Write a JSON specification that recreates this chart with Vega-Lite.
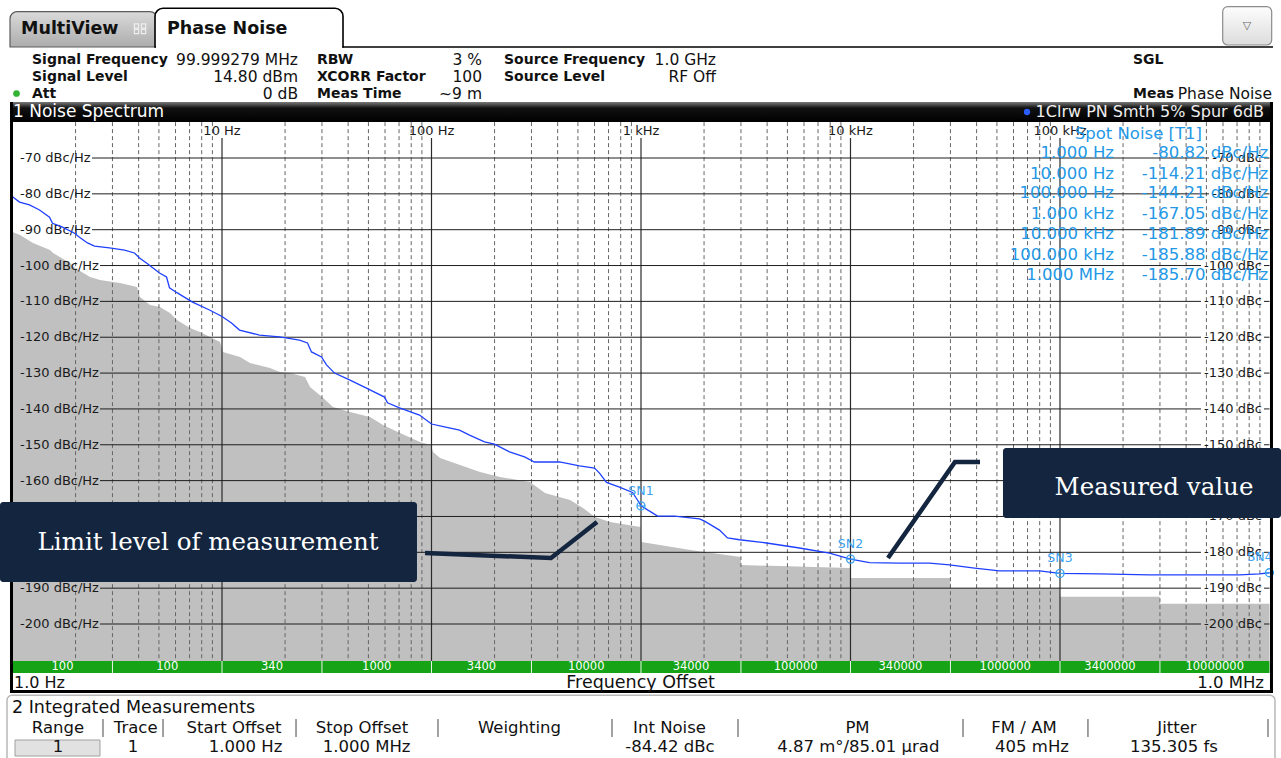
{
 "$schema": "https://vega.github.io/schema/vega-lite/v6.json",
 "width": 1281,
 "height": 758,
 "autosize": {"type": "none"},
 "padding": 0,
 "background": "#ffffff",
 "config": {"view": {"stroke": null}, "text": {"font": "DejaVu Sans"}, "axis": {"disable": true}},
 "datasets": {
  "chrome": [
   {"part": "multiview_tab", "hz": 0.9729, "hz2": 4.8954, "db": -29.19, "db2": -39.04},
   {"part": "phase_tab", "hz": 4.7889, "hz2": 37.81, "db": -28.24, "db2": -39.04},
   {"part": "tab_gap", "hz": 4.8419, "hz2": 37.4, "db": -38.7, "db2": -39.4},
   {"part": "tab_line", "hz": 37.81, "hz2": 1039200, "db": -39.04},
   {"part": "menu_button", "hz": 597900, "hz2": 1024500, "db": -27.79, "db2": -38.48},
   {"part": "title_bar", "hz": 0.9836, "hz2": 1039200, "db": -54.38, "db2": -59.96},
   {"part": "frame_left", "hz": 0.9729, "hz2": 1.0055, "db": -54.38, "db2": -219.25},
   {"part": "frame_right", "hz": 1005500, "hz2": 1039200, "db": -54.38, "db2": -219.25},
   {"part": "frame_bottom", "hz": 0.9729, "hz2": 1039200, "db": -218.41, "db2": -219.25},
   {"part": "table_panel", "hz": 0.9414, "hz2": 1062300, "db": -219.9, "db2": -242},
   {"part": "range_button", "hz": 1.0279, "hz2": 2.616, "db": -232.36, "db2": -236.83}
  ],
  "header": [
   {"text": "Signal Frequency", "role": "label", "hz": 1.239, "db": -42.66},
   {"text": "Signal Level", "role": "label", "hz": 1.239, "db": -47.54},
   {"text": "Att", "role": "label", "hz": 1.239, "db": -52.01},
   {"text": "RBW", "role": "label", "hz": 28.41, "db": -42.66},
   {"text": "XCORR Factor", "role": "label", "hz": 28.41, "db": -47.54},
   {"text": "Meas Time", "role": "label", "hz": 28.41, "db": -52.01},
   {"text": "Source Frequency", "role": "label", "hz": 221.9, "db": -42.66},
   {"text": "Source Level", "role": "label", "hz": 221.9, "db": -47.54},
   {"text": "SGL", "role": "label", "hz": 223100, "db": -42.66},
   {"text": "Meas", "role": "label", "hz": 223100, "db": -52.01},
   {"text": "99.999279 MHz", "role": "value", "hz": 23.06, "db": -42.66},
   {"text": "14.80 dBm", "role": "value", "hz": 23.06, "db": -47.54},
   {"text": "0 dB", "role": "value", "hz": 23.06, "db": -52.01},
   {"text": "3 %", "role": "value", "hz": 174.2, "db": -42.66},
   {"text": "100", "role": "value", "hz": 174.2, "db": -47.54},
   {"text": "~9 m", "role": "value", "hz": 174.2, "db": -52.01},
   {"text": "1.0 GHz", "role": "value", "hz": 2280, "db": -42.66},
   {"text": "RF Off", "role": "value", "hz": 2280, "db": -47.54},
   {"text": "Phase Noise", "role": "value", "hz": 1027800, "db": -52.01}
  ],
  "trace": [
   {"hz": 1, "db": -80.82}, {"hz": 1.08, "db": -82.3}, {"hz": 1.205, "db": -83.1}, {"hz": 1.346, "db": -84.5},
   {"hz": 1.502, "db": -86.5}, {"hz": 1.552, "db": -88.2}, {"hz": 1.733, "db": -89.3}, {"hz": 1.977, "db": -91.0},
   {"hz": 2.088, "db": -92.1}, {"hz": 2.28, "db": -93.7}, {"hz": 2.463, "db": -94.6}, {"hz": 2.904, "db": -95.1},
   {"hz": 3.424, "db": -95.7}, {"hz": 3.823, "db": -96.5}, {"hz": 4.038, "db": -97.9}, {"hz": 4.362, "db": -99.3},
   {"hz": 5.031, "db": -102.1}, {"hz": 5.435, "db": -103.2}, {"hz": 5.615, "db": -106.2}, {"hz": 6.065, "db": -107.5},
   {"hz": 7.232, "db": -110.2}, {"hz": 8.716, "db": -112.4}, {"hz": 10, "db": -114.21}, {"hz": 11.1, "db": -116.0},
   {"hz": 12.12, "db": -118.0}, {"hz": 15.1, "db": -119.4}, {"hz": 18.81, "db": -119.9}, {"hz": 23.44, "db": -120.8},
   {"hz": 25.59, "db": -121.6}, {"hz": 26.74, "db": -124.1}, {"hz": 29.85, "db": -125.5}, {"hz": 31.54, "db": -127.7},
   {"hz": 34.44, "db": -130.0}, {"hz": 40.61, "db": -131.9}, {"hz": 48.95, "db": -134.2}, {"hz": 59.67, "db": -136.7},
   {"hz": 61.66, "db": -138.3}, {"hz": 70.36, "db": -139.7}, {"hz": 87.66, "db": -141.7}, {"hz": 100, "db": -144.21},
   {"hz": 115.4, "db": -145.0}, {"hz": 136.1, "db": -145.9}, {"hz": 151.9, "db": -147.3}, {"hz": 179.1, "db": -149.2},
   {"hz": 199.8, "db": -149.8}, {"hz": 235.7, "db": -152.0}, {"hz": 277.9, "db": -153.4}, {"hz": 310.1, "db": -154.8},
   {"hz": 408.3, "db": -154.8}, {"hz": 508.7, "db": -155.9}, {"hz": 599.8, "db": -156.5}, {"hz": 633.8, "db": -157.9},
   {"hz": 684.4, "db": -160.5}, {"hz": 789.5, "db": -161.8}, {"hz": 910.8, "db": -163.3}, {"hz": 962.2, "db": -165.4},
   {"hz": 1000, "db": -167.05}, {"hz": 1134, "db": -169.0}, {"hz": 1199, "db": -169.9}, {"hz": 1445, "db": -169.9},
   {"hz": 1902, "db": -170.7}, {"hz": 2010, "db": -171.3}, {"hz": 2370, "db": -173.8}, {"hz": 2588, "db": -176.0},
   {"hz": 2953, "db": -176.5}, {"hz": 3972, "db": -177.4}, {"hz": 5710, "db": -178.8}, {"hz": 7940, "db": -180.2},
   {"hz": 10000, "db": -181.89}, {"hz": 12320, "db": -182.9}, {"hz": 17130, "db": -183.0}, {"hz": 23840, "db": -183.0},
   {"hz": 29700, "db": -183.5}, {"hz": 39080, "db": -184.4}, {"hz": 51440, "db": -185.2}, {"hz": 79810, "db": -185.2},
   {"hz": 100000, "db": -185.88}, {"hz": 154300, "db": -186.0}, {"hz": 267400, "db": -186.3}, {"hz": 371900, "db": -186.3},
   {"hz": 719300, "db": -186.3}, {"hz": 896000, "db": -186.0}, {"hz": 1000000, "db": -185.7}
  ],
  "limit": [
   {"hz": 1, "db": -90.65}, {"hz": 1.086, "db": -91.48}, {"hz": 1.253, "db": -93.71}, {"hz": 1.51, "db": -95.67},
   {"hz": 1.561, "db": -96.5}, {"hz": 1.881, "db": -99.29}, {"hz": 1.988, "db": -100.69}, {"hz": 2.344, "db": -103.2},
   {"hz": 2.616, "db": -104.04}, {"hz": 3.018, "db": -104.59}, {"hz": 3.26, "db": -104.87}, {"hz": 3.929, "db": -105.99},
   {"hz": 4.061, "db": -108.78}, {"hz": 4.533, "db": -111.01}, {"hz": 5.058, "db": -111.57}, {"hz": 5.646, "db": -113.24},
   {"hz": 6.098, "db": -115.19}, {"hz": 7.037, "db": -117.42}, {"hz": 7.853, "db": -118.54}, {"hz": 8.763, "db": -119.94},
   {"hz": 9.783, "db": -121.33}, {"hz": 10.11, "db": -124.12}, {"hz": 12.19, "db": -125.52}, {"hz": 13.6, "db": -127.19},
   {"hz": 16.95, "db": -128.59}, {"hz": 18.92, "db": -129.7}, {"hz": 21.11, "db": -129.98}, {"hz": 24.9, "db": -131.09},
   {"hz": 26.31, "db": -133.88}, {"hz": 30.02, "db": -136.67}, {"hz": 33.87, "db": -139.46}, {"hz": 40.83, "db": -140.86},
   {"hz": 50.87, "db": -142.25}, {"hz": 58.68, "db": -144.49}, {"hz": 70.72, "db": -146.72}, {"hz": 88.12, "db": -149.23},
   {"hz": 99.45, "db": -150.07}, {"hz": 101.7, "db": -152.02}, {"hz": 109.8, "db": -153.69}, {"hz": 136.8, "db": -155.64},
   {"hz": 170.4, "db": -157.6}, {"hz": 212.3, "db": -158.99}, {"hz": 295.2, "db": -160.39}, {"hz": 348.2, "db": -163.46},
   {"hz": 458.3, "db": -165.41}, {"hz": 528.6, "db": -167.64}, {"hz": 603.2, "db": -170.15}, {"hz": 711.3, "db": -171.55},
   {"hz": 994.5, "db": -172.94}, {"hz": 1005, "db": -177.13}, {"hz": 1723, "db": -179.36}, {"hz": 2990, "db": -181.31},
   {"hz": 3010, "db": -183.54}, {"hz": 9950, "db": -184.38}, {"hz": 10050, "db": -187.14}, {"hz": 29900, "db": -187.14},
   {"hz": 30100, "db": -189.93}, {"hz": 99500, "db": -189.93}, {"hz": 100500, "db": -192.43}, {"hz": 299000, "db": -192.43},
   {"hz": 301000, "db": -194.38}, {"hz": 1000000, "db": -194.38}
  ],
  "levels": [
   {"db": -70, "left": "-70 dBc/Hz", "right": "-70 dBc"},
   {"db": -80, "left": "-80 dBc/Hz", "right": "-80 dBc"},
   {"db": -90, "left": "-90 dBc/Hz", "right": "-90 dBc"},
   {"db": -100, "left": "-100 dBc/Hz", "right": "-100 dBc"},
   {"db": -110, "left": "-110 dBc/Hz", "right": "-110 dBc"},
   {"db": -120, "left": "-120 dBc/Hz", "right": "-120 dBc"},
   {"db": -130, "left": "-130 dBc/Hz", "right": "-130 dBc"},
   {"db": -140, "left": "-140 dBc/Hz", "right": "-140 dBc"},
   {"db": -150, "left": "-150 dBc/Hz", "right": "-150 dBc"},
   {"db": -160, "left": "-160 dBc/Hz", "right": "-160 dBc"},
   {"db": -170, "left": "-170 dBc/Hz", "right": "-170 dBc"},
   {"db": -180, "left": "-180 dBc/Hz", "right": "-180 dBc"},
   {"db": -190, "left": "-190 dBc/Hz", "right": "-190 dBc"},
   {"db": -200, "left": "-200 dBc/Hz", "right": "-200 dBc"}
  ],
  "decades": [
   {"hz": 10, "label": "10 Hz"}, {"hz": 100, "label": "100 Hz"}, {"hz": 1000, "label": "1 kHz"},
   {"hz": 10000, "label": "10 kHz"}, {"hz": 100000, "label": "100 kHz"}
  ],
  "minor": [
   {"hz": 2}, {"hz": 3}, {"hz": 4}, {"hz": 5}, {"hz": 6}, {"hz": 7}, {"hz": 8}, {"hz": 9},
   {"hz": 20}, {"hz": 30}, {"hz": 40}, {"hz": 50}, {"hz": 60}, {"hz": 70}, {"hz": 80}, {"hz": 90},
   {"hz": 200}, {"hz": 300}, {"hz": 400}, {"hz": 500}, {"hz": 600}, {"hz": 700}, {"hz": 800}, {"hz": 900},
   {"hz": 2000}, {"hz": 3000}, {"hz": 4000}, {"hz": 5000}, {"hz": 6000}, {"hz": 7000}, {"hz": 8000}, {"hz": 9000},
   {"hz": 20000}, {"hz": 30000}, {"hz": 40000}, {"hz": 50000}, {"hz": 60000}, {"hz": 70000}, {"hz": 80000}, {"hz": 90000},
   {"hz": 200000}, {"hz": 300000}, {"hz": 400000}, {"hz": 500000}, {"hz": 600000}, {"hz": 700000}, {"hz": 800000}, {"hz": 900000}
  ],
  "markers": [
   {"name": "SN1", "hz": 1000, "db": -167.05},
   {"name": "SN2", "hz": 10000, "db": -181.89},
   {"name": "SN3", "hz": 100000, "db": -185.88},
   {"name": "SN4", "hz": 1000000, "db": -185.7}
  ],
  "spot": [
   {"offset": "1.000 Hz", "value": "-80.82 dBc/Hz", "db": -68.69},
   {"offset": "10.000 Hz", "value": "-114.21 dBc/Hz", "db": -74.46},
   {"offset": "100.000 Hz", "value": "-144.21 dBc/Hz", "db": -79.85},
   {"offset": "1.000 kHz", "value": "-167.05 dBc/Hz", "db": -85.71},
   {"offset": "10.000 kHz", "value": "-181.89 dBc/Hz", "db": -91.29},
   {"offset": "100.000 kHz", "value": "-185.88 dBc/Hz", "db": -97.06},
   {"offset": "1.000 MHz", "value": "-185.70 dBc/Hz", "db": -102.64}
  ],
  "rbw": [
   {"lo": 1, "hi": 3, "hz": 1.732, "rbw": "100"},
   {"lo": 3, "hi": 10, "hz": 5.477, "rbw": "100"},
   {"lo": 10, "hi": 30, "hz": 17.32, "rbw": "340"},
   {"lo": 30, "hi": 100, "hz": 54.77, "rbw": "1000"},
   {"lo": 100, "hi": 300, "hz": 173.2, "rbw": "3400"},
   {"lo": 300, "hi": 1000, "hz": 547.7, "rbw": "10000"},
   {"lo": 1000, "hi": 3000, "hz": 1732, "rbw": "34000"},
   {"lo": 3000, "hi": 10000, "hz": 5477, "rbw": "100000"},
   {"lo": 10000, "hi": 30000, "hz": 17321, "rbw": "340000"},
   {"lo": 30000, "hi": 100000, "hz": 54772, "rbw": "1000000"},
   {"lo": 100000, "hi": 300000, "hz": 173205, "rbw": "3400000"},
   {"lo": 300000, "hi": 1000000, "hz": 547723, "rbw": "10000000"}
  ],
  "table_head": [
   {"text": "Range", "hz": 1.649}, {"text": "Trace", "hz": 3.873}, {"text": "Start Offset", "hz": 11.41},
   {"text": "Stop Offset", "hz": 46.59}, {"text": "Weighting", "hz": 263}, {"text": "Int Noise", "hz": 1368},
   {"text": "PM", "hz": 10800}, {"text": "FM / AM", "hz": 67340}, {"text": "Jitter", "hz": 361800}
  ],
  "table_values": [
   {"text": "1", "hz": 1.649}, {"text": "1", "hz": 3.759}, {"text": "1.000 Hz", "hz": 12.95},
   {"text": "1.000 MHz", "hz": 49.0}, {"text": "-84.42 dBc", "hz": 1375},
   {"text": "4.87 m°/85.01 µrad", "hz": 10900}, {"text": "405 mHz", "hz": 73540}, {"text": "135.305 fs", "hz": 350000}
  ],
  "table_seps": [
   {"hz": 2.7034}, {"hz": 5.2298}, {"hz": 22.56}, {"hz": 107.4}, {"hz": 727.1},
   {"hz": 2904}, {"hz": 34440}, {"hz": 136000}, {"hz": 983700}
  ],
  "callouts": [
   {"label": "Limit level of measurement", "hz": 0.87158, "hz2": 85.25, "db": -165.97, "db2": -188.28, "thz": 8.576, "tdb": -177.4},
   {"label": "Measured value", "hz": 53440, "hz2": 1134900, "db": -150.9, "db2": -170.43, "thz": 281000, "tdb": -162.06}
  ],
  "connectors": [
   {"seg": "limit", "step": 1, "hz": 93.1, "db": -180.2},
   {"seg": "limit", "step": 2, "hz": 371.9, "db": -181.59},
   {"seg": "limit", "step": 3, "hz": 616.6, "db": -171.55},
   {"seg": "measured", "step": 1, "hz": 41510, "db": -154.81},
   {"seg": "measured", "step": 2, "hz": 31530, "db": -154.81},
   {"seg": "measured", "step": 3, "hz": 15100, "db": -181.59}
  ]
 },
 "layer": [
  {"data": {"name": "chrome"}, "transform": [{"filter": "datum.part === 'multiview_tab'"}],
   "mark": {"type": "rect", "fill": {"gradient": "linear", "x1": 0, "y1": 0, "x2": 0, "y2": 1, "stops": [{"offset": 0, "color": "#dadada"}, {"offset": 1, "color": "#acacac"}]}, "stroke": "#5c5c5c", "strokeWidth": 1.2, "cornerRadiusTopLeft": 7, "cornerRadiusTopRight": 7},
   "encoding": {
    "x": {"field": "hz", "type": "quantitative", "scale": {"type": "log", "domain": [0.87158, 1134900], "nice": false}},
    "y": {"field": "db", "type": "quantitative", "scale": {"domain": [-237.38, -25.923], "nice": false, "zero": false}},
    "x2": {"field": "hz2"}, "y2": {"field": "db2"}}},
  {"data": {"name": "chrome"}, "transform": [{"filter": "datum.part === 'phase_tab'"}],
   "mark": {"type": "rect", "fill": "#ffffff", "stroke": "#000000", "strokeWidth": 1.6, "cornerRadiusTopLeft": 8, "cornerRadiusTopRight": 8},
   "encoding": {
    "x": {"field": "hz", "type": "quantitative", "scale": {"type": "log", "domain": [0.87158, 1134900], "nice": false}},
    "y": {"field": "db", "type": "quantitative", "scale": {"domain": [-237.38, -25.923], "nice": false, "zero": false}},
    "x2": {"field": "hz2"}, "y2": {"field": "db2"}}},
  {"data": {"name": "chrome"}, "transform": [{"filter": "datum.part === 'tab_gap'"}],
   "mark": {"type": "rect", "fill": "#ffffff", "strokeWidth": 0},
   "encoding": {
    "x": {"field": "hz", "type": "quantitative", "scale": {"type": "log", "domain": [0.87158, 1134900], "nice": false}},
    "y": {"field": "db", "type": "quantitative", "scale": {"domain": [-237.38, -25.923], "nice": false, "zero": false}},
    "x2": {"field": "hz2"}, "y2": {"field": "db2"}}},
  {"data": {"name": "chrome"}, "transform": [{"filter": "datum.part === 'tab_line'"}],
   "mark": {"type": "rule", "stroke": "#000000", "strokeWidth": 1.6},
   "encoding": {
    "x": {"field": "hz", "type": "quantitative", "scale": {"type": "log", "domain": [0.87158, 1134900], "nice": false}},
    "y": {"field": "db", "type": "quantitative", "scale": {"domain": [-237.38, -25.923], "nice": false, "zero": false}},
    "x2": {"field": "hz2"}}},
  {"data": {"name": "chrome"}, "transform": [{"filter": "datum.part === 'menu_button'"}],
   "mark": {"type": "rect", "fill": {"gradient": "linear", "x1": 0, "y1": 0, "x2": 0, "y2": 1, "stops": [{"offset": 0, "color": "#fdfdfd"}, {"offset": 1, "color": "#dcdcdc"}]}, "stroke": "#8c8c8c", "strokeWidth": 1.2, "cornerRadius": 5},
   "encoding": {
    "x": {"field": "hz", "type": "quantitative", "scale": {"type": "log", "domain": [0.87158, 1134900], "nice": false}},
    "y": {"field": "db", "type": "quantitative", "scale": {"domain": [-237.38, -25.923], "nice": false, "zero": false}},
    "x2": {"field": "hz2"}, "y2": {"field": "db2"}}},
  {"data": {"values": [{"glyph": "▽", "hz": 781000, "db": -33.18}]},
   "mark": {"type": "text", "fontSize": 11, "color": "#6a6a6a"},
   "encoding": {
    "x": {"field": "hz", "type": "quantitative", "scale": {"type": "log", "domain": [0.87158, 1134900], "nice": false}},
    "y": {"field": "db", "type": "quantitative", "scale": {"domain": [-237.38, -25.923], "nice": false, "zero": false}},
    "text": {"field": "glyph", "type": "nominal"}}},
  {"data": {"values": [{"hz": 3.9075, "db": -33.18}, {"hz": 4.2216, "db": -33.18}, {"hz": 3.9075, "db": -34.71}, {"hz": 4.2216, "db": -34.71}]},
   "mark": {"type": "point", "shape": "square", "size": 18, "filled": false, "stroke": "#eeeeee", "strokeWidth": 1.2, "opacity": 1},
   "encoding": {
    "x": {"field": "hz", "type": "quantitative", "scale": {"type": "log", "domain": [0.87158, 1134900], "nice": false}},
    "y": {"field": "db", "type": "quantitative", "scale": {"domain": [-237.38, -25.923], "nice": false, "zero": false}}}},
  {"data": {"values": [{"text": "MultiView", "hz": 1.0979, "db": -34.15}, {"text": "Phase Noise", "hz": 5.465, "db": -34.15}]},
   "mark": {"type": "text", "align": "left", "fontWeight": "bold", "fontSize": 17.5, "color": "#111111"},
   "encoding": {
    "x": {"field": "hz", "type": "quantitative", "scale": {"type": "log", "domain": [0.87158, 1134900], "nice": false}},
    "y": {"field": "db", "type": "quantitative", "scale": {"domain": [-237.38, -25.923], "nice": false, "zero": false}},
    "text": {"field": "text", "type": "nominal"}}},
  {"data": {"name": "header"}, "transform": [{"filter": "datum.role === 'label'"}],
   "mark": {"type": "text", "align": "left", "fontWeight": "bold", "fontSize": 14, "color": "#111111"},
   "encoding": {
    "x": {"field": "hz", "type": "quantitative", "scale": {"type": "log", "domain": [0.87158, 1134900], "nice": false}},
    "y": {"field": "db", "type": "quantitative", "scale": {"domain": [-237.38, -25.923], "nice": false, "zero": false}},
    "text": {"field": "text", "type": "nominal"}}},
  {"data": {"name": "header"}, "transform": [{"filter": "datum.role === 'value'"}],
   "mark": {"type": "text", "align": "right", "fontSize": 15.5, "color": "#111111"},
   "encoding": {
    "x": {"field": "hz", "type": "quantitative", "scale": {"type": "log", "domain": [0.87158, 1134900], "nice": false}},
    "y": {"field": "db", "type": "quantitative", "scale": {"domain": [-237.38, -25.923], "nice": false, "zero": false}},
    "text": {"field": "text", "type": "nominal"}}},
  {"data": {"values": [{"hz": 1.045, "db": -52.01}]},
   "mark": {"type": "point", "shape": "circle", "size": 45, "filled": true, "color": "#33b333", "opacity": 1},
   "encoding": {
    "x": {"field": "hz", "type": "quantitative", "scale": {"type": "log", "domain": [0.87158, 1134900], "nice": false}},
    "y": {"field": "db", "type": "quantitative", "scale": {"domain": [-237.38, -25.923], "nice": false, "zero": false}}}},
  {"data": {"name": "chrome"}, "transform": [{"filter": "datum.part === 'title_bar'"}],
   "mark": {"type": "rect", "fill": {"gradient": "linear", "x1": 0, "y1": 0, "x2": 0, "y2": 1, "stops": [{"offset": 0, "color": "#7a7a7a"}, {"offset": 0.3, "color": "#111111"}, {"offset": 1, "color": "#000000"}]}},
   "encoding": {
    "x": {"field": "hz", "type": "quantitative", "scale": {"type": "log", "domain": [0.87158, 1134900], "nice": false}},
    "y": {"field": "db", "type": "quantitative", "scale": {"domain": [-237.38, -25.923], "nice": false, "zero": false}},
    "x2": {"field": "hz2"}, "y2": {"field": "db2"}}},
  {"data": {"values": [{"text": "1 Noise Spectrum", "hz": 1.0055, "db": -57.17}]},
   "mark": {"type": "text", "align": "left", "fontSize": 17, "color": "#ffffff"},
   "encoding": {
    "x": {"field": "hz", "type": "quantitative", "scale": {"type": "log", "domain": [0.87158, 1134900], "nice": false}},
    "y": {"field": "db", "type": "quantitative", "scale": {"domain": [-237.38, -25.923], "nice": false, "zero": false}},
    "text": {"field": "text", "type": "nominal"}}},
  {"data": {"values": [{"text": "1Clrw PN Smth 5% Spur 6dB", "hz": 941600, "db": -57.17}]},
   "mark": {"type": "text", "align": "right", "fontSize": 16, "color": "#eeeeee"},
   "encoding": {
    "x": {"field": "hz", "type": "quantitative", "scale": {"type": "log", "domain": [0.87158, 1134900], "nice": false}},
    "y": {"field": "db", "type": "quantitative", "scale": {"domain": [-237.38, -25.923], "nice": false, "zero": false}},
    "text": {"field": "text", "type": "nominal"}}},
  {"data": {"values": [{"hz": 69600, "db": -57.17}]},
   "mark": {"type": "point", "shape": "circle", "size": 40, "filled": true, "color": "#2a5cff", "opacity": 1},
   "encoding": {
    "x": {"field": "hz", "type": "quantitative", "scale": {"type": "log", "domain": [0.87158, 1134900], "nice": false}},
    "y": {"field": "db", "type": "quantitative", "scale": {"domain": [-237.38, -25.923], "nice": false, "zero": false}}}},
  {"data": {"name": "limit"},
   "mark": {"type": "area", "fill": "#c0c0c0", "opacity": 1},
   "encoding": {
    "x": {"field": "hz", "type": "quantitative", "scale": {"type": "log", "domain": [0.87158, 1134900], "nice": false}},
    "y": {"field": "db", "type": "quantitative", "scale": {"domain": [-237.38, -25.923], "nice": false, "zero": false}},
    "y2": {"datum": -210.5}}},
  {"data": {"name": "minor"},
   "mark": {"type": "rule", "stroke": "#666666", "strokeWidth": 1, "strokeDash": [4, 3]},
   "encoding": {
    "x": {"field": "hz", "type": "quantitative", "scale": {"type": "log", "domain": [0.87158, 1134900], "nice": false}},
    "y": {"datum": -60, "type": "quantitative", "scale": {"domain": [-237.38, -25.923], "nice": false, "zero": false}},
    "y2": {"datum": -210.3}}},
  {"data": {"name": "decades"},
   "mark": {"type": "rule", "stroke": "#2b2b2b", "strokeWidth": 1.2},
   "encoding": {
    "x": {"field": "hz", "type": "quantitative", "scale": {"type": "log", "domain": [0.87158, 1134900], "nice": false}},
    "y": {"datum": -64.42, "type": "quantitative", "scale": {"domain": [-237.38, -25.923], "nice": false, "zero": false}},
    "y2": {"datum": -210.3}}},
  {"data": {"name": "decades"},
   "mark": {"type": "text", "fontSize": 13, "color": "#1a1a1a"},
   "encoding": {
    "x": {"field": "hz", "type": "quantitative", "scale": {"type": "log", "domain": [0.87158, 1134900], "nice": false}},
    "y": {"datum": -62.4, "type": "quantitative", "scale": {"domain": [-237.38, -25.923], "nice": false, "zero": false}},
    "text": {"field": "label", "type": "nominal"}}},
  {"data": {"name": "levels"}, "transform": [{"filter": "datum.db > -95"}],
   "mark": {"type": "rule", "stroke": "#1e1e1e", "strokeWidth": 1},
   "encoding": {
    "x": {"datum": 2.396, "type": "quantitative", "scale": {"type": "log", "domain": [0.87158, 1134900], "nice": false}},
    "x2": {"datum": 514400},
    "y": {"field": "db", "type": "quantitative", "scale": {"domain": [-237.38, -25.923], "nice": false, "zero": false}}}},
  {"data": {"name": "levels"}, "transform": [{"filter": "datum.db < -95"}],
   "mark": {"type": "rule", "stroke": "#1e1e1e", "strokeWidth": 1},
   "encoding": {
    "x": {"datum": 2.616, "type": "quantitative", "scale": {"type": "log", "domain": [0.87158, 1134900], "nice": false}},
    "x2": {"datum": 471000},
    "y": {"field": "db", "type": "quantitative", "scale": {"domain": [-237.38, -25.923], "nice": false, "zero": false}}}},
  {"data": {"name": "levels"},
   "mark": {"type": "rule", "stroke": "#1e1e1e", "strokeWidth": 1},
   "encoding": {
    "x": {"datum": 941600, "type": "quantitative", "scale": {"type": "log", "domain": [0.87158, 1134900], "nice": false}},
    "x2": {"datum": 1000000},
    "y": {"field": "db", "type": "quantitative", "scale": {"domain": [-237.38, -25.923], "nice": false, "zero": false}}}},
  {"data": {"name": "levels"},
   "mark": {"type": "text", "align": "left", "fontSize": 13, "color": "#1a1a1a"},
   "encoding": {
    "x": {"datum": 1.0859, "type": "quantitative", "scale": {"type": "log", "domain": [0.87158, 1134900], "nice": false}},
    "y": {"field": "db", "type": "quantitative", "scale": {"domain": [-237.38, -25.923], "nice": false, "zero": false}},
    "text": {"field": "left", "type": "nominal"}}},
  {"data": {"name": "levels"},
   "mark": {"type": "text", "align": "right", "fontSize": 13, "color": "#1a1a1a"},
   "encoding": {
    "x": {"datum": 921000, "type": "quantitative", "scale": {"type": "log", "domain": [0.87158, 1134900], "nice": false}},
    "y": {"field": "db", "type": "quantitative", "scale": {"domain": [-237.38, -25.923], "nice": false, "zero": false}},
    "text": {"field": "right", "type": "nominal"}}},
  {"data": {"name": "trace"},
   "mark": {"type": "line", "stroke": "#2040ff", "strokeWidth": 1.3},
   "encoding": {
    "x": {"field": "hz", "type": "quantitative", "scale": {"type": "log", "domain": [0.87158, 1134900], "nice": false}},
    "y": {"field": "db", "type": "quantitative", "scale": {"domain": [-237.38, -25.923], "nice": false, "zero": false}}}},
  {"data": {"name": "markers"},
   "mark": {"type": "point", "shape": "circle", "size": 64, "filled": false, "stroke": "#3aa2f0", "strokeWidth": 1.3, "opacity": 1},
   "encoding": {
    "x": {"field": "hz", "type": "quantitative", "scale": {"type": "log", "domain": [0.87158, 1134900], "nice": false}},
    "y": {"field": "db", "type": "quantitative", "scale": {"domain": [-237.38, -25.923], "nice": false, "zero": false}}}},
  {"data": {"name": "markers"},
   "mark": {"type": "point", "shape": "M-1,0L1,0", "size": 64, "filled": false, "stroke": "#3aa2f0", "strokeWidth": 1.2, "opacity": 1},
   "encoding": {
    "x": {"field": "hz", "type": "quantitative", "scale": {"type": "log", "domain": [0.87158, 1134900], "nice": false}},
    "y": {"field": "db", "type": "quantitative", "scale": {"domain": [-237.38, -25.923], "nice": false, "zero": false}}}},
  {"data": {"name": "markers"}, "transform": [{"filter": "datum.name !== 'SN4'"}],
   "mark": {"type": "text", "dy": -15, "fontSize": 12.5, "color": "#3aa2f0"},
   "encoding": {
    "x": {"field": "hz", "type": "quantitative", "scale": {"type": "log", "domain": [0.87158, 1134900], "nice": false}},
    "y": {"field": "db", "type": "quantitative", "scale": {"domain": [-237.38, -25.923], "nice": false, "zero": false}},
    "text": {"field": "name", "type": "nominal"}}},
  {"data": {"name": "markers"}, "transform": [{"filter": "datum.name === 'SN4'"}],
   "mark": {"type": "text", "dy": -16, "dx": 3, "align": "right", "fontSize": 12.5, "color": "#3aa2f0"},
   "encoding": {
    "x": {"field": "hz", "type": "quantitative", "scale": {"type": "log", "domain": [0.87158, 1134900], "nice": false}},
    "y": {"field": "db", "type": "quantitative", "scale": {"domain": [-237.38, -25.923], "nice": false, "zero": false}},
    "text": {"field": "name", "type": "nominal"}}},
  {"data": {"values": [{"text": "Spot Noise [T1]", "hz": 476200, "db": -63.17}]},
   "mark": {"type": "text", "align": "right", "fontSize": 16.5, "color": "#2398e6"},
   "encoding": {
    "x": {"field": "hz", "type": "quantitative", "scale": {"type": "log", "domain": [0.87158, 1134900], "nice": false}},
    "y": {"field": "db", "type": "quantitative", "scale": {"domain": [-237.38, -25.923], "nice": false, "zero": false}},
    "text": {"field": "text", "type": "nominal"}}},
  {"data": {"name": "spot"},
   "mark": {"type": "text", "align": "right", "fontSize": 16.5, "color": "#2398e6"},
   "encoding": {
    "x": {"datum": 181000, "type": "quantitative", "scale": {"type": "log", "domain": [0.87158, 1134900], "nice": false}},
    "y": {"field": "db", "type": "quantitative", "scale": {"domain": [-237.38, -25.923], "nice": false, "zero": false}},
    "text": {"field": "offset", "type": "nominal"}}},
  {"data": {"name": "spot"},
   "mark": {"type": "text", "align": "right", "fontSize": 16.5, "color": "#2398e6"},
   "encoding": {
    "x": {"datum": 986000, "type": "quantitative", "scale": {"type": "log", "domain": [0.87158, 1134900], "nice": false}},
    "y": {"field": "db", "type": "quantitative", "scale": {"domain": [-237.38, -25.923], "nice": false, "zero": false}},
    "text": {"field": "value", "type": "nominal"}}},
  {"data": {"name": "rbw"},
   "mark": {"type": "rect", "fill": "#16a316"},
   "encoding": {
    "x": {"field": "lo", "type": "quantitative", "scale": {"type": "log", "domain": [0.87158, 1134900], "nice": false}},
    "x2": {"field": "hi"},
    "y": {"datum": -210.3, "type": "quantitative", "scale": {"domain": [-237.38, -25.923], "nice": false, "zero": false}},
    "y2": {"datum": -213.67}}},
  {"data": {"name": "rbw"}, "transform": [{"filter": "datum.lo > 1"}],
   "mark": {"type": "rule", "stroke": "#e8f5e8", "strokeWidth": 1},
   "encoding": {
    "x": {"field": "lo", "type": "quantitative", "scale": {"type": "log", "domain": [0.87158, 1134900], "nice": false}},
    "y": {"datum": -210.3, "type": "quantitative", "scale": {"domain": [-237.38, -25.923], "nice": false, "zero": false}},
    "y2": {"datum": -213.67}}},
  {"data": {"name": "rbw"},
   "mark": {"type": "text", "fontSize": 11.5, "color": "#ffffff"},
   "encoding": {
    "x": {"field": "hz", "type": "quantitative", "scale": {"type": "log", "domain": [0.87158, 1134900], "nice": false}},
    "y": {"datum": -211.99, "type": "quantitative", "scale": {"domain": [-237.38, -25.923], "nice": false, "zero": false}},
    "text": {"field": "rbw", "type": "nominal"}}},
  {"data": {"name": "chrome"}, "transform": [{"filter": "datum.part === 'frame_left' || datum.part === 'frame_right' || datum.part === 'frame_bottom'"}],
   "mark": {"type": "rect", "fill": "#000000"},
   "encoding": {
    "x": {"field": "hz", "type": "quantitative", "scale": {"type": "log", "domain": [0.87158, 1134900], "nice": false}},
    "y": {"field": "db", "type": "quantitative", "scale": {"domain": [-237.38, -25.923], "nice": false, "zero": false}},
    "x2": {"field": "hz2"}, "y2": {"field": "db2"}}},
  {"data": {"values": [{"text": "1.0 Hz", "hz": 1.0166, "db": -216.46}]},
   "mark": {"type": "text", "align": "left", "fontSize": 16, "color": "#111111"},
   "encoding": {
    "x": {"field": "hz", "type": "quantitative", "scale": {"type": "log", "domain": [0.87158, 1134900], "nice": false}},
    "y": {"field": "db", "type": "quantitative", "scale": {"domain": [-237.38, -25.923], "nice": false, "zero": false}},
    "text": {"field": "text", "type": "nominal"}}},
  {"data": {"values": [{"text": "Frequency Offset", "hz": 995, "db": -216.46}]},
   "mark": {"type": "text", "align": "center", "fontSize": 17.5, "color": "#111111"},
   "encoding": {
    "x": {"field": "hz", "type": "quantitative", "scale": {"type": "log", "domain": [0.87158, 1134900], "nice": false}},
    "y": {"field": "db", "type": "quantitative", "scale": {"domain": [-237.38, -25.923], "nice": false, "zero": false}},
    "text": {"field": "text", "type": "nominal"}}},
  {"data": {"values": [{"text": "1.0 MHz", "hz": 941600, "db": -216.46}]},
   "mark": {"type": "text", "align": "right", "fontSize": 16.5, "color": "#111111"},
   "encoding": {
    "x": {"field": "hz", "type": "quantitative", "scale": {"type": "log", "domain": [0.87158, 1134900], "nice": false}},
    "y": {"field": "db", "type": "quantitative", "scale": {"domain": [-237.38, -25.923], "nice": false, "zero": false}},
    "text": {"field": "text", "type": "nominal"}}},
  {"data": {"name": "chrome"}, "transform": [{"filter": "datum.part === 'table_panel'"}],
   "mark": {"type": "rect", "fill": "#ffffff", "stroke": "#b8b8b8", "strokeWidth": 1.5, "cornerRadius": 5},
   "encoding": {
    "x": {"field": "hz", "type": "quantitative", "scale": {"type": "log", "domain": [0.87158, 1134900], "nice": false}},
    "y": {"field": "db", "type": "quantitative", "scale": {"domain": [-237.38, -25.923], "nice": false, "zero": false}},
    "x2": {"field": "hz2"}, "y2": {"field": "db2"}}},
  {"data": {"values": [{"text": "2 Integrated Measurements", "hz": 0.9945, "db": -223.44}]},
   "mark": {"type": "text", "align": "left", "fontSize": 17.5, "color": "#111111"},
   "encoding": {
    "x": {"field": "hz", "type": "quantitative", "scale": {"type": "log", "domain": [0.87158, 1134900], "nice": false}},
    "y": {"field": "db", "type": "quantitative", "scale": {"domain": [-237.38, -25.923], "nice": false, "zero": false}},
    "text": {"field": "text", "type": "nominal"}}},
  {"data": {"name": "table_seps"},
   "mark": {"type": "rule", "stroke": "#444444", "strokeWidth": 1},
   "encoding": {
    "x": {"field": "hz", "type": "quantitative", "scale": {"type": "log", "domain": [0.87158, 1134900], "nice": false}},
    "y": {"datum": -226.51, "type": "quantitative", "scale": {"domain": [-237.38, -25.923], "nice": false, "zero": false}},
    "y2": {"datum": -231.52}}},
  {"data": {"name": "chrome"}, "transform": [{"filter": "datum.part === 'range_button'"}],
   "mark": {"type": "rect", "fill": "#e1e1e1", "stroke": "#a0a0a0", "strokeWidth": 1},
   "encoding": {
    "x": {"field": "hz", "type": "quantitative", "scale": {"type": "log", "domain": [0.87158, 1134900], "nice": false}},
    "y": {"field": "db", "type": "quantitative", "scale": {"domain": [-237.38, -25.923], "nice": false, "zero": false}},
    "x2": {"field": "hz2"}, "y2": {"field": "db2"}}},
  {"data": {"name": "table_head"},
   "mark": {"type": "text", "fontSize": 16.5, "color": "#111111"},
   "encoding": {
    "x": {"field": "hz", "type": "quantitative", "scale": {"type": "log", "domain": [0.87158, 1134900], "nice": false}},
    "y": {"datum": -229.02, "type": "quantitative", "scale": {"domain": [-237.38, -25.923], "nice": false, "zero": false}},
    "text": {"field": "text", "type": "nominal"}}},
  {"data": {"name": "table_values"},
   "mark": {"type": "text", "fontSize": 16.5, "color": "#111111"},
   "encoding": {
    "x": {"field": "hz", "type": "quantitative", "scale": {"type": "log", "domain": [0.87158, 1134900], "nice": false}},
    "y": {"datum": -234.18, "type": "quantitative", "scale": {"domain": [-237.38, -25.923], "nice": false, "zero": false}},
    "text": {"field": "text", "type": "nominal"}}},
  {"data": {"name": "callouts"},
   "mark": {"type": "rect", "fill": "#13253f", "cornerRadius": 3},
   "encoding": {
    "x": {"field": "hz", "type": "quantitative", "scale": {"type": "log", "domain": [0.87158, 1134900], "nice": false}},
    "y": {"field": "db", "type": "quantitative", "scale": {"domain": [-237.38, -25.923], "nice": false, "zero": false}},
    "x2": {"field": "hz2"}, "y2": {"field": "db2"}}},
  {"data": {"name": "connectors"},
   "mark": {"type": "line", "stroke": "#13253f", "strokeWidth": 4.5, "strokeJoin": "miter"},
   "encoding": {
    "x": {"field": "hz", "type": "quantitative", "scale": {"type": "log", "domain": [0.87158, 1134900], "nice": false}},
    "y": {"field": "db", "type": "quantitative", "scale": {"domain": [-237.38, -25.923], "nice": false, "zero": false}},
    "detail": {"field": "seg", "type": "nominal"}, "order": {"field": "step", "type": "quantitative"}}},
  {"data": {"name": "callouts"},
   "mark": {"type": "text", "font": "DejaVu Serif", "fontSize": 24.5, "color": "#ffffff"},
   "encoding": {
    "x": {"field": "thz", "type": "quantitative", "scale": {"type": "log", "domain": [0.87158, 1134900], "nice": false}},
    "y": {"field": "tdb", "type": "quantitative", "scale": {"domain": [-237.38, -25.923], "nice": false, "zero": false}},
    "text": {"field": "label", "type": "nominal"}}}
 ]
}
